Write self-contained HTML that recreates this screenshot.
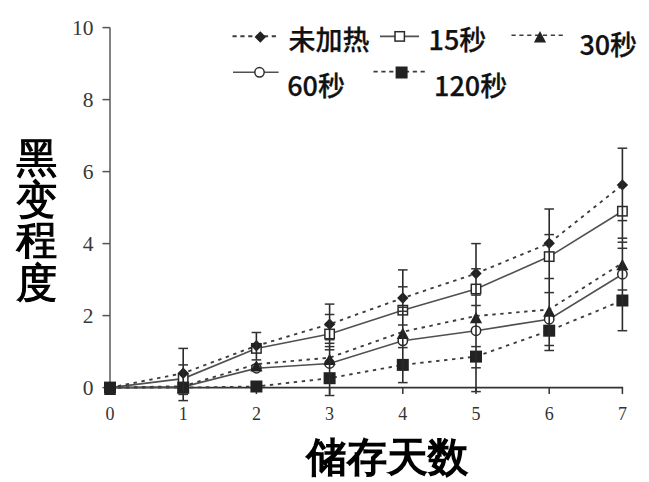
<!DOCTYPE html>
<html><head><meta charset="utf-8"><style>
html,body{margin:0;padding:0;background:#fff;}
svg{display:block;}
.yl{font-family:"Liberation Serif",serif;font-size:21.5px;fill:#383838;text-anchor:end;}
.xl{font-family:"Liberation Serif",serif;font-size:18px;fill:#333;text-anchor:middle;}
.lg{font-family:"Noto Sans CJK SC",sans-serif;font-size:27px;font-weight:500;fill:#111;stroke:#111;stroke-width:0.25px;}
.yt{font-family:"WenQuanYi Zen Hei",sans-serif;font-size:41px;fill:#000;stroke:#000;stroke-width:1.1px;text-anchor:middle;}
.xt{font-family:"WenQuanYi Zen Hei",sans-serif;font-size:40.5px;fill:#000;stroke:#000;stroke-width:1.6px;text-anchor:middle;}
</style></head><body>
<svg width="649" height="482" viewBox="0 0 649 482">
<rect width="649" height="482" fill="#fff"/>
<line x1="110.0" y1="27.5" x2="110.0" y2="387.6" stroke="#5a5a5a" stroke-width="1.5"/>
<line x1="102.5" y1="387.6" x2="110.0" y2="387.6" stroke="#555" stroke-width="1.5"/>
<text x="93.5" y="394.6" class="yl">0</text>
<line x1="102.5" y1="315.6" x2="110.0" y2="315.6" stroke="#555" stroke-width="1.5"/>
<text x="93.5" y="322.6" class="yl">2</text>
<line x1="102.5" y1="243.6" x2="110.0" y2="243.6" stroke="#555" stroke-width="1.5"/>
<text x="93.5" y="250.6" class="yl">4</text>
<line x1="102.5" y1="171.6" x2="110.0" y2="171.6" stroke="#555" stroke-width="1.5"/>
<text x="93.5" y="178.6" class="yl">6</text>
<line x1="102.5" y1="99.6" x2="110.0" y2="99.6" stroke="#555" stroke-width="1.5"/>
<text x="93.5" y="106.6" class="yl">8</text>
<line x1="102.5" y1="27.6" x2="110.0" y2="27.6" stroke="#555" stroke-width="1.5"/>
<text x="93.5" y="34.6" class="yl">10</text>
<line x1="110.0" y1="387.6" x2="623.1" y2="387.6" stroke="#333" stroke-width="1.6"/>
<text x="110.0" y="420" class="xl">0</text>
<line x1="183.2" y1="387.6" x2="183.2" y2="394.1" stroke="#333" stroke-width="1.5"/>
<text x="183.2" y="420" class="xl">1</text>
<line x1="256.4" y1="387.6" x2="256.4" y2="394.1" stroke="#333" stroke-width="1.5"/>
<text x="256.4" y="420" class="xl">2</text>
<line x1="329.6" y1="387.6" x2="329.6" y2="394.1" stroke="#333" stroke-width="1.5"/>
<text x="329.6" y="420" class="xl">3</text>
<line x1="402.8" y1="387.6" x2="402.8" y2="394.1" stroke="#333" stroke-width="1.5"/>
<text x="402.8" y="420" class="xl">4</text>
<line x1="476.0" y1="387.6" x2="476.0" y2="394.1" stroke="#333" stroke-width="1.5"/>
<text x="476.0" y="420" class="xl">5</text>
<line x1="549.2" y1="387.6" x2="549.2" y2="394.1" stroke="#333" stroke-width="1.5"/>
<text x="549.2" y="420" class="xl">6</text>
<line x1="622.4" y1="387.6" x2="622.4" y2="394.1" stroke="#333" stroke-width="1.5"/>
<text x="622.4" y="420" class="xl">7</text>
<polyline points="110.0,387.6 183.2,387.6 256.4,386.5 329.6,378.2 402.8,364.9 476.0,356.6 549.2,330.7 622.4,300.5" fill="none" stroke="#3c3c3c" stroke-width="1.85" stroke-dasharray="3.4 4.6"/>
<polyline points="110.0,387.6 183.2,386.9 256.4,368.2 329.6,363.5 402.8,340.8 476.0,330.7 549.2,319.2 622.4,274.2" fill="none" stroke="#505050" stroke-width="1.6"/>
<polyline points="110.0,387.6 183.2,386.2 256.4,364.2 329.6,357.7 402.8,331.8 476.0,316.0 549.2,309.5 622.4,263.0" fill="none" stroke="#3c3c3c" stroke-width="1.85" stroke-dasharray="3.4 4.6"/>
<polyline points="110.0,387.6 183.2,378.6 256.4,348.4 329.6,334.0 402.8,310.2 476.0,289.0 549.2,256.6 622.4,211.2" fill="none" stroke="#505050" stroke-width="1.6"/>
<polyline points="110.0,387.6 183.2,373.2 256.4,345.8 329.6,324.2 402.8,298.0 476.0,273.5 549.2,243.2 622.4,184.9" fill="none" stroke="#3c3c3c" stroke-width="1.85" stroke-dasharray="3.4 4.6"/>
<rect x="105.3" y="382.9" width="9.4" height="9.4" fill="#fff" stroke="#2a2a2a" stroke-width="1.5"/>
<rect x="178.5" y="373.9" width="9.4" height="9.4" fill="#fff" stroke="#2a2a2a" stroke-width="1.5"/>
<rect x="251.7" y="343.7" width="9.4" height="9.4" fill="#fff" stroke="#2a2a2a" stroke-width="1.5"/>
<rect x="324.9" y="329.3" width="9.4" height="9.4" fill="#fff" stroke="#2a2a2a" stroke-width="1.5"/>
<rect x="398.1" y="305.5" width="9.4" height="9.4" fill="#fff" stroke="#2a2a2a" stroke-width="1.5"/>
<rect x="471.3" y="284.3" width="9.4" height="9.4" fill="#fff" stroke="#2a2a2a" stroke-width="1.5"/>
<rect x="544.5" y="251.9" width="9.4" height="9.4" fill="#fff" stroke="#2a2a2a" stroke-width="1.5"/>
<rect x="617.7" y="206.5" width="9.4" height="9.4" fill="#fff" stroke="#2a2a2a" stroke-width="1.5"/>
<circle cx="110.0" cy="387.6" r="4.7" fill="#fff" stroke="#2a2a2a" stroke-width="1.5"/>
<circle cx="183.2" cy="386.9" r="4.7" fill="#fff" stroke="#2a2a2a" stroke-width="1.5"/>
<circle cx="256.4" cy="368.2" r="4.7" fill="#fff" stroke="#2a2a2a" stroke-width="1.5"/>
<circle cx="329.6" cy="363.5" r="4.7" fill="#fff" stroke="#2a2a2a" stroke-width="1.5"/>
<circle cx="402.8" cy="340.8" r="4.7" fill="#fff" stroke="#2a2a2a" stroke-width="1.5"/>
<circle cx="476.0" cy="330.7" r="4.7" fill="#fff" stroke="#2a2a2a" stroke-width="1.5"/>
<circle cx="549.2" cy="319.2" r="4.7" fill="#fff" stroke="#2a2a2a" stroke-width="1.5"/>
<circle cx="622.4" cy="274.2" r="4.7" fill="#fff" stroke="#2a2a2a" stroke-width="1.5"/>
<path d="M110.0 383.4 L116.1 394.9 L103.9 394.9Z" fill="#222"/>
<path d="M183.2 382.0 L189.3 393.5 L177.1 393.5Z" fill="#222"/>
<path d="M256.4 360.0 L262.5 371.5 L250.3 371.5Z" fill="#222"/>
<path d="M329.6 353.5 L335.7 365.0 L323.5 365.0Z" fill="#222"/>
<path d="M402.8 327.6 L408.9 339.1 L396.7 339.1Z" fill="#222"/>
<path d="M476.0 311.8 L482.1 323.3 L469.9 323.3Z" fill="#222"/>
<path d="M549.2 305.3 L555.3 316.8 L543.1 316.8Z" fill="#222"/>
<path d="M622.4 258.8 L628.5 270.3 L616.3 270.3Z" fill="#222"/>
<path d="M110.0 381.9 L115.7 387.6 L110.0 393.3 L104.3 387.6Z" fill="#222"/>
<path d="M183.2 367.5 L188.9 373.2 L183.2 378.9 L177.5 373.2Z" fill="#222"/>
<path d="M256.4 340.1 L262.1 345.8 L256.4 351.5 L250.7 345.8Z" fill="#222"/>
<path d="M329.6 318.5 L335.3 324.2 L329.6 329.9 L323.9 324.2Z" fill="#222"/>
<path d="M402.8 292.3 L408.5 298.0 L402.8 303.7 L397.1 298.0Z" fill="#222"/>
<path d="M476.0 267.8 L481.7 273.5 L476.0 279.2 L470.3 273.5Z" fill="#222"/>
<path d="M549.2 237.5 L554.9 243.2 L549.2 248.9 L543.5 243.2Z" fill="#222"/>
<path d="M622.4 179.2 L628.1 184.9 L622.4 190.6 L616.7 184.9Z" fill="#222"/>
<rect x="104.0" y="381.6" width="12" height="12" fill="#222"/>
<rect x="177.2" y="381.6" width="12" height="12" fill="#222"/>
<rect x="250.4" y="380.5" width="12" height="12" fill="#222"/>
<rect x="323.6" y="372.2" width="12" height="12" fill="#222"/>
<rect x="396.8" y="358.9" width="12" height="12" fill="#222"/>
<rect x="470.0" y="350.6" width="12" height="12" fill="#222"/>
<rect x="543.2" y="324.7" width="12" height="12" fill="#222"/>
<rect x="616.4" y="294.5" width="12" height="12" fill="#222"/>
<line x1="183.2" y1="348.4" x2="183.2" y2="400.6" stroke="#2a2a2a" stroke-width="1.6"/>
<line x1="178.4" y1="348.4" x2="188.0" y2="348.4" stroke="#333" stroke-width="1.5"/>
<line x1="178.4" y1="364.9" x2="188.0" y2="364.9" stroke="#333" stroke-width="1.5"/>
<line x1="178.4" y1="394.4" x2="188.0" y2="394.4" stroke="#333" stroke-width="1.5"/>
<line x1="178.4" y1="400.6" x2="188.0" y2="400.6" stroke="#333" stroke-width="1.5"/>
<line x1="256.4" y1="332.5" x2="256.4" y2="359.9" stroke="#2a2a2a" stroke-width="1.6"/>
<line x1="251.6" y1="332.5" x2="261.2" y2="332.5" stroke="#333" stroke-width="1.5"/>
<line x1="251.6" y1="359.9" x2="261.2" y2="359.9" stroke="#333" stroke-width="1.5"/>
<line x1="329.6" y1="304.1" x2="329.6" y2="395.5" stroke="#2a2a2a" stroke-width="1.6"/>
<line x1="324.8" y1="304.1" x2="334.4" y2="304.1" stroke="#333" stroke-width="1.5"/>
<line x1="324.8" y1="314.5" x2="334.4" y2="314.5" stroke="#333" stroke-width="1.5"/>
<line x1="324.8" y1="339.7" x2="334.4" y2="339.7" stroke="#333" stroke-width="1.5"/>
<line x1="324.8" y1="343.3" x2="334.4" y2="343.3" stroke="#333" stroke-width="1.5"/>
<line x1="324.8" y1="346.6" x2="334.4" y2="346.6" stroke="#333" stroke-width="1.5"/>
<line x1="324.8" y1="349.8" x2="334.4" y2="349.8" stroke="#333" stroke-width="1.5"/>
<line x1="324.8" y1="395.5" x2="334.4" y2="395.5" stroke="#333" stroke-width="1.5"/>
<line x1="402.8" y1="269.9" x2="402.8" y2="382.6" stroke="#2a2a2a" stroke-width="1.6"/>
<line x1="398.0" y1="269.9" x2="407.6" y2="269.9" stroke="#333" stroke-width="1.5"/>
<line x1="398.0" y1="286.8" x2="407.6" y2="286.8" stroke="#333" stroke-width="1.5"/>
<line x1="398.0" y1="307.3" x2="407.6" y2="307.3" stroke="#333" stroke-width="1.5"/>
<line x1="398.0" y1="311.3" x2="407.6" y2="311.3" stroke="#333" stroke-width="1.5"/>
<line x1="398.0" y1="325.0" x2="407.6" y2="325.0" stroke="#333" stroke-width="1.5"/>
<line x1="398.0" y1="347.6" x2="407.6" y2="347.6" stroke="#333" stroke-width="1.5"/>
<line x1="398.0" y1="382.6" x2="407.6" y2="382.6" stroke="#333" stroke-width="1.5"/>
<line x1="476.0" y1="243.6" x2="476.0" y2="391.6" stroke="#2a2a2a" stroke-width="1.6"/>
<line x1="471.2" y1="243.6" x2="480.8" y2="243.6" stroke="#333" stroke-width="1.5"/>
<line x1="471.2" y1="268.8" x2="480.8" y2="268.8" stroke="#333" stroke-width="1.5"/>
<line x1="471.2" y1="295.1" x2="480.8" y2="295.1" stroke="#333" stroke-width="1.5"/>
<line x1="471.2" y1="305.5" x2="480.8" y2="305.5" stroke="#333" stroke-width="1.5"/>
<line x1="471.2" y1="346.6" x2="480.8" y2="346.6" stroke="#333" stroke-width="1.5"/>
<line x1="471.2" y1="367.8" x2="480.8" y2="367.8" stroke="#333" stroke-width="1.5"/>
<line x1="471.2" y1="391.6" x2="480.8" y2="391.6" stroke="#333" stroke-width="1.5"/>
<line x1="549.2" y1="209.0" x2="549.2" y2="350.5" stroke="#2a2a2a" stroke-width="1.6"/>
<line x1="544.4" y1="209.0" x2="554.0" y2="209.0" stroke="#333" stroke-width="1.5"/>
<line x1="544.4" y1="234.6" x2="554.0" y2="234.6" stroke="#333" stroke-width="1.5"/>
<line x1="544.4" y1="278.5" x2="554.0" y2="278.5" stroke="#333" stroke-width="1.5"/>
<line x1="544.4" y1="292.6" x2="554.0" y2="292.6" stroke="#333" stroke-width="1.5"/>
<line x1="544.4" y1="345.5" x2="554.0" y2="345.5" stroke="#333" stroke-width="1.5"/>
<line x1="544.4" y1="350.5" x2="554.0" y2="350.5" stroke="#333" stroke-width="1.5"/>
<line x1="622.4" y1="148.2" x2="622.4" y2="330.7" stroke="#2a2a2a" stroke-width="1.6"/>
<line x1="617.6" y1="148.2" x2="627.2" y2="148.2" stroke="#333" stroke-width="1.5"/>
<line x1="617.6" y1="220.6" x2="627.2" y2="220.6" stroke="#333" stroke-width="1.5"/>
<line x1="617.6" y1="238.2" x2="627.2" y2="238.2" stroke="#333" stroke-width="1.5"/>
<line x1="617.6" y1="242.2" x2="627.2" y2="242.2" stroke="#333" stroke-width="1.5"/>
<line x1="617.6" y1="248.3" x2="627.2" y2="248.3" stroke="#333" stroke-width="1.5"/>
<line x1="617.6" y1="290.0" x2="627.2" y2="290.0" stroke="#333" stroke-width="1.5"/>
<line x1="617.6" y1="330.7" x2="627.2" y2="330.7" stroke="#333" stroke-width="1.5"/>
<line x1="232.5" y1="36.2" x2="276.5" y2="36.2" stroke="#3c3c3c" stroke-width="2.1" stroke-dasharray="4.2 3.65"/>
<path d="M260.3 31.3 L266.0 37.0 L260.3 42.7 L254.6 37.0Z" fill="#222"/>
<text x="288.5" y="50" class="lg">未加热</text>
<line x1="380.0" y1="36.4" x2="419.0" y2="36.4" stroke="#505050" stroke-width="1.6"/>
<rect x="395.0" y="31.7" width="9.4" height="9.4" fill="#fff" stroke="#2a2a2a" stroke-width="1.5"/>
<text x="428.5" y="49.5" class="lg">15秒</text>
<line x1="511.5" y1="35.3" x2="563.0" y2="35.3" stroke="#3c3c3c" stroke-width="1.6" stroke-dasharray="4.2 3.65"/>
<path d="M540.0 31.0 L546.1 42.5 L533.9 42.5Z" fill="#222"/>
<text x="579.5" y="55.3" class="lg" textLength="57.5">30秒</text>
<line x1="233.0" y1="72.3" x2="278.6" y2="72.3" stroke="#505050" stroke-width="1.6"/>
<circle cx="259.5" cy="72.3" r="4.7" fill="#fff" stroke="#2a2a2a" stroke-width="1.5"/>
<text x="287.2" y="95.5" class="lg">60秒</text>
<line x1="373.5" y1="71.6" x2="425.5" y2="71.6" stroke="#3c3c3c" stroke-width="1.8" stroke-dasharray="4.2 3.65"/>
<rect x="395.6" y="66.5" width="12" height="12" fill="#222"/>
<text x="434" y="96.2" class="lg">120秒</text>
<text x="36.8" y="171.6" class="yt">黑</text>
<text x="36.8" y="213.6" class="yt">变</text>
<text x="36.8" y="253.7" class="yt">程</text>
<text x="36.8" y="296.6" class="yt">度</text>
<text x="387.2" y="471" class="xt">储存天数</text>
</svg>
</body></html>
